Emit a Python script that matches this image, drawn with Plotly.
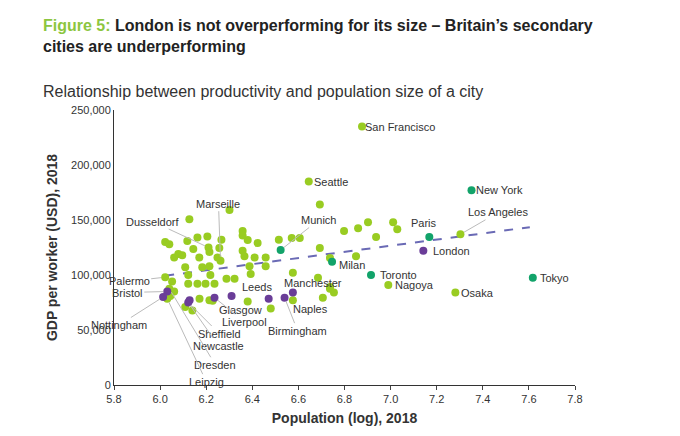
import plotly.graph_objects as go

# other cities (lime)
oth_x = [6.876,6.645,7.303,6.693,6.798,6.859,6.902,6.937,7.011,7.029,6.693,6.737,6.85,6.685,6.737,6.754,6.706,7.281,6.99,
         6.301,6.127,6.358,6.38,6.423,6.358,6.205,6.162,6.118,6.266,6.022,6.04,6.144,6.21,6.257,6.079,6.096,6.061,6.17,6.214,
         6.249,6.262,6.183,6.214,6.109,6.358,6.366,6.41,6.458,6.458,6.388,6.393,6.515,6.571,6.606,6.022,6.122,6.162,6.122,
         6.197,6.236,6.218,6.288,6.323,6.052,6.04,6.061,6.044,6.031,6.171,6.214,6.228,6.109,6.14,6.38,6.48,6.576,6.576,6.737]
oth_y = [235000,185000,137000,164000,140000,142600,148000,134500,148000,141700,124500,115500,117000,97500,87500,84000,79400,84000,91000,
         159000,150700,140000,131800,129000,136000,135000,134000,131000,132000,130000,128000,123600,125000,124500,119000,118000,116000,116000,121000,
         116000,113000,107000,108000,107000,122000,117000,116000,116000,108000,108000,101000,132000,133600,133600,98000,100000,92000,92000,
         92000,92000,100000,96600,96600,94000,87500,85000,81000,78500,78500,77000,76500,71000,67700,76000,69500,102000,77000,89000]
# largest global cities (teal)
big_x = [7.351,7.168,6.746,6.915,7.617,6.523]
big_y = [177000,134500,112000,100000,97500,122700]
# UK cities (purple)
uk_x = [7.142,6.031,6.013,6.122,6.128,6.236,6.31,6.471,6.54,6.576]
uk_y = [122000,85000,80000,75000,77000,79400,81000,78500,79400,84000]
trend_x = [6.022,7.604]
trend_y = [99300,143500]

# labels: name, x, y, ax, ay (pixel offset), arrow
labels = [
    ("San Francisco",6.876,235000,38,0,False),("Seattle",6.645,185000,22,0,False),
    ("New York",7.351,177000,28,0,False),("Paris",7.168,134500,-5,-14,False),
    ("London",7.142,122000,28,0,False),("Milan",6.746,112000,20,3,False),
    ("Toronto",6.915,100000,27,0,False),("Nagoya",6.99,91000,26,0,False),
    ("Osaka",7.281,84000,22,0,False),("Tokyo",7.617,97500,22,0,False),
    ("Los Angeles",7.303,137000,38,-22,True),("Munich",6.523,122700,38,-30,True),
    ("Marseille",6.262,113000,-2,-57,True),("Dusseldorf",6.21,125000,-56,-26,True),
    ("Palermo",6.022,98000,-36,4,True),("Bristol",6.031,85000,-40,1,True),
    ("Nottingham",6.013,80000,-44,28,True),("Sheffield",6.122,75000,31,31,True),
    ("Newcastle",6.122,75000,30,43,True),("Dresden",6.04,87500,46,76,True),
    ("Leipzig",6.031,78500,39,83,True),("Glasgow",6.31,81000,9,14,False),
    ("Liverpool",6.236,79400,30,24,True),("Leeds",6.471,78500,-12,-12,False),
    ("Manchester",6.576,84000,20,-10,False),("Naples",6.576,77000,18,9,True),
    ("Birmingham",6.54,79400,13,33,True),
]

fig = go.Figure()
fig.add_trace(go.Scatter(x=trend_x, y=trend_y, mode="lines",
                         line=dict(color="#6a6ab5", width=2, dash="dash")))
for xs, ys, c in [(oth_x, oth_y, "#99cc22"), (big_x, big_y, "#12a36a"), (uk_x, uk_y, "#6a3d98")]:
    fig.add_trace(go.Scatter(x=xs, y=ys, mode="markers",
                             marker=dict(color=c, size=8, line=dict(width=0))))

for name, x, y, ax, ay, arr in labels:
    if arr:
        fig.add_annotation(x=x, y=y, text=name, ax=ax, ay=ay, showarrow=True, arrowhead=0,
                           arrowwidth=1, arrowcolor="#bbbbbb", standoff=4,
                           font=dict(size=11, color="#333"))
    else:
        fig.add_annotation(x=x, y=y, text=name, showarrow=False, xshift=ax, yshift=-ay,
                           font=dict(size=11, color="#333"))

fig.add_annotation(xref="paper", yref="paper", x=-0.158, y=1.345, xanchor="left", yanchor="top",
                   align="left", showarrow=False,
                   text="<span style='color:#8cc63f'><b>Figure 5:</b></span> <b>London is not overperforming for its size – Britain’s secondary<br>cities are underperforming</b>",
                   font=dict(size=16, color="#222"))
fig.add_annotation(xref="paper", yref="paper", x=-0.158, y=1.069, xanchor="left", yanchor="middle",
                   showarrow=False, text="Relationship between productivity and population size of a city",
                   font=dict(size=16, color="#333"))

fig.update_layout(
    width=680, height=436, margin=dict(l=106, r=113, t=102, b=59),
    paper_bgcolor="white", plot_bgcolor="white", showlegend=False,
    font=dict(family="Liberation Sans, Arial", color="#333"),
    xaxis=dict(range=[5.8, 7.8], dtick=0.2, tickformat=".1f", showgrid=False, zeroline=False,
               showline=True, linecolor="#333", ticks="outside", ticklen=4, tickfont=dict(size=11),
               title=dict(text="<b>Population (log), 2018</b>", font=dict(size=14), standoff=8)),
    yaxis=dict(range=[0, 250000], dtick=50000, tickformat=",", showgrid=False, zeroline=False,
               showline=True, linecolor="#333", tickfont=dict(size=11),
               title=dict(text="<b>GDP per worker (USD), 2018</b>", font=dict(size=14), standoff=10)),
)
fig.write_html("out.html")
